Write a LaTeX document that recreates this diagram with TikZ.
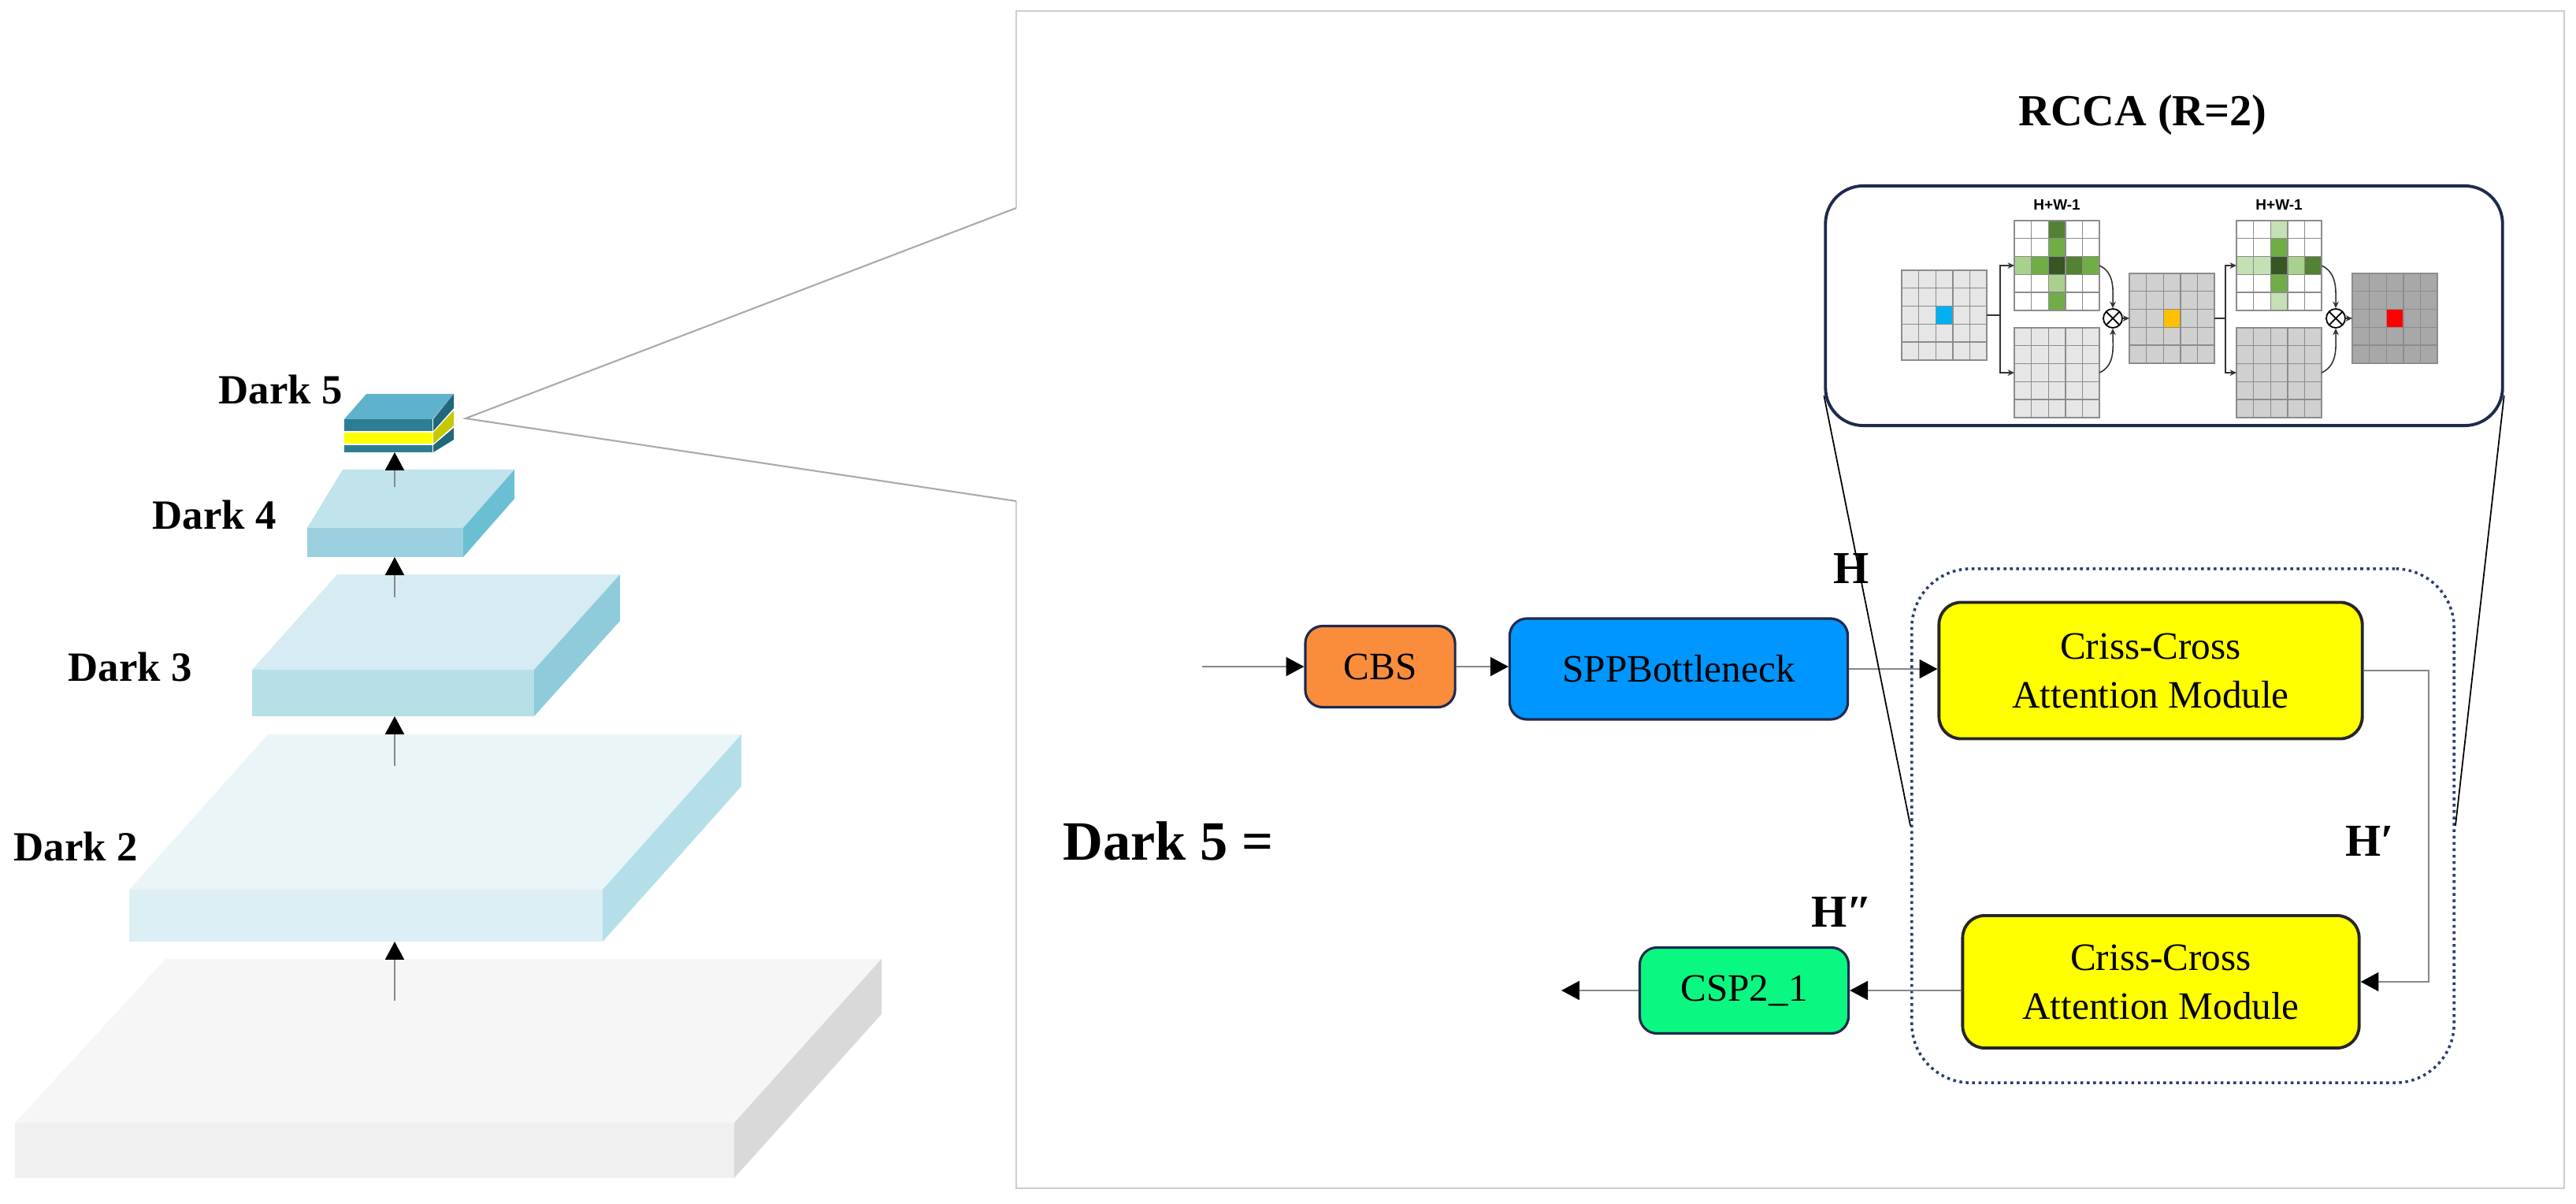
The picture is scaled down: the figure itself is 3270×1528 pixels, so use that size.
\documentclass[tikz,border=0pt]{standalone}
\usepackage{fontspec}
\setmainfont{Liberation Serif}
\newfontfamily\hwfont{Liberation Sans}
\usetikzlibrary{arrows.meta,calc,positioning}

\definecolor{cbsorange}{RGB}{250,141,60}
\definecolor{sppblue}{RGB}{0,150,255}
\definecolor{ccayellow}{RGB}{255,255,0}
\definecolor{cspgreen}{RGB}{10,248,130}
\definecolor{boxnavy}{RGB}{30,42,78}
\definecolor{dotnavy}{RGB}{40,62,110}
\definecolor{framegray}{RGB}{205,205,205}
\definecolor{zoomgray}{RGB}{170,170,170}
\definecolor{flowgray}{RGB}{135,135,135}
\definecolor{cellgray}{RGB}{140,140,140}
\definecolor{fmlight}{RGB}{230,230,230}
\definecolor{fmmid}{RGB}{208,208,208}
\definecolor{fmdark}{RGB}{168,168,168}
\definecolor{pixblue}{RGB}{0,176,240}
\definecolor{pixorange}{RGB}{255,192,0}
\definecolor{gdeep}{RGB}{55,86,35}
\definecolor{gdark}{RGB}{84,130,53}
\definecolor{gmid}{RGB}{112,173,71}
\definecolor{glight}{RGB}{169,209,142}
\definecolor{gpale}{RGB}{197,224,180}
% slabs of the backbone
\definecolor{basetop}{RGB}{246,246,246}
\definecolor{basefront}{RGB}{240,240,240}
\definecolor{baseside}{RGB}{217,217,217}
\definecolor{dktwotop}{RGB}{234,245,248}
\definecolor{dktwofront}{RGB}{219,239,244}
\definecolor{dktwoside}{RGB}{180,223,232}
\definecolor{dkthreetop}{RGB}{214,236,242}
\definecolor{dkthreefront}{RGB}{183,223,232}
\definecolor{dkthreeside}{RGB}{143,203,219}
\definecolor{dkfourtop}{RGB}{192,227,236}
\definecolor{dkfourfront}{RGB}{155,209,223}
\definecolor{dkfourside}{RGB}{107,191,211}
\definecolor{dkfivetop}{RGB}{95,178,203}
\definecolor{dkfiveteal}{RGB}{45,125,147}
\definecolor{dkfiveside}{RGB}{33,104,122}
\definecolor{yellowside}{RGB}{200,200,0}

% slab: xl, xr, ytop, ybottom, back xl, back xr, back y, colour
\newcommand{\slab}[8]{%
  \fill[#8front] (#1,#3) rectangle (#2,#4);
  \fill[#8top] (#1,#3) -- (#2,#3) -- (#6,#7) -- (#5,#7) -- cycle;
  \fill[#8side] (#2,#3) -- (#6,#7) -- (#6,#7+#4-#3) -- (#2,#4) -- cycle;
}
% feature map: name, x, y, fill
\newcommand{\fmap}[4]{%
  \node[fmapbox,fill=#4] (#1) at (#2,#3) {};
  \foreach \i in {1,...,4} {
    \draw[cellline] ($(#1.north west)+(\i*21.6,0)$) -- ($(#1.south west)+(\i*21.6,0)$);
    \draw[cellline] ($(#1.north west)+(0,\i*22.8)$) -- ($(#1.north east)+(0,\i*22.8)$);
  }
}
% one cell: map, column, row, colour
\newcommand{\cell}[4]{%
  \filldraw[fill=#4,draw=cellgray,line width=0.4pt] ($(#1.north west)+(#2*21.6,#3*22.8)$) rectangle ++(21.6,22.8);
}

\begin{document}
\begin{tikzpicture}[x=0.01cm,y=-0.01cm,
  box/.style={draw=boxnavy,line width=0.9pt,rounded corners=0.22cm,inner sep=0pt,align=center,font=\fontsize{14}{17.6}\selectfont},
  ccabox/.style={box,draw=black!85,fill=ccayellow,line width=1.1pt,rounded corners=0.28cm},
  flow/.style={draw=flowgray,line width=0.6pt,-{Triangle[width=6.8pt,length=6.5pt,color=black]}},
  darklbl/.style={font=\bfseries\fontsize{15}{18}\selectfont},
  hlbl/.style={font=\bfseries\fontsize{16.5}{20}\selectfont},
  fmapbox/.style={anchor=north west,draw=cellgray,line width=0.4pt,minimum width=1.08cm,minimum height=1.14cm,inner sep=0pt,outer sep=0pt},
  cellline/.style={draw=cellgray,line width=0.4pt},
  small/.style={draw=black!80,line width=0.45pt,-{Stealth[length=2.4pt,width=2.2pt]}},
  otimes/.style={circle,draw=black,line width=0.5pt,minimum size=0.24cm,inner sep=0pt,fill=white,
    path picture={\draw[line width=0.5pt] (path picture bounding box.north west) -- (path picture bounding box.south east)
      (path picture bounding box.north east) -- (path picture bounding box.south west);}},
  hwlbl/.style={font=\hwfont\bfseries\fontsize{5.4}{6}\selectfont,inner sep=0pt}]
\useasboundingbox (0,0) rectangle (3270,1528);

% frame and zoom lines
\draw[framegray,line width=0.6pt] (1290,264) -- (1290,14) -- (3255,14) -- (3255,1508) -- (1290,1508) -- (1290,636);
\draw[zoomgray,line width=0.6pt] (1290,264) -- (591,531) -- (1290,636);

% backbone
\slab{19}{932}{1425}{1495}{210}{1119}{1217}{base}
\slab{164}{765}{1129}{1195}{340}{941}{932}{dktwo}
\slab{320}{678}{850}{909}{428}{787}{729}{dkthree}
\slab{390}{588}{670}{707}{435}{653}{596}{dkfour}
\fill[dkfivetop] (437,532) -- (549,532) -- (576,500) -- (465,500) -- cycle;
\foreach \ya/\yb/\ba/\bb/\cf/\cs in {532/547/500/518/dkfiveteal/dkfiveside,549/563/521/540/ccayellow/yellowside,565/574/543/558/dkfiveteal/dkfiveside} {
  \fill[\cf] (437,\ya) rectangle (549,\yb);
  \fill[\cs] (550,\ya) -- (576,\ba) -- (576,\bb) -- (550,\yb) -- cycle;
}
\node[darklbl] (l2) at (96,1074) {Dark 2};
\node[darklbl] (l3) at (165,846) {Dark 3};
\node[darklbl] (l4) at (272,653) {Dark 4};
\node[darklbl] (l5) at (356,494) {Dark 5};
\foreach \ya/\yb [count=\k] in {1270/1195,972/909,758/707,618/574} {
  \coordinate (up\k) at (501,\ya);
  \coordinate (dn\k) at (501,\yb);
  \draw[flow] (up\k) -- (dn\k);
}

% Dark 5 in detail
\node[font=\bfseries\fontsize{20}{24}\selectfont] (eqlbl) at (1483,1067) {Dark 5 =};
\node[box,fill=cbsorange,minimum width=1.9cm,minimum height=1.03cm] (cbs) at (1752,846) {CBS};
\node[box,fill=sppblue,minimum width=4.29cm,minimum height=1.28cm] (spp) at (2131,849) {SPPBottleneck};
\node[draw=dotnavy,line width=1pt,dash pattern=on 1pt off 1.3pt,rounded corners=0.75cm,minimum width=6.88cm,minimum height=6.52cm] (loopbox) at (2771,1048) {};
\node[ccabox,minimum width=5.37cm,minimum height=1.73cm] (cca1) at (2730,851) {Criss-Cross\\Attention Module};
\node[ccabox,minimum width=5.03cm,minimum height=1.68cm] (cca2) at (2743,1246) {Criss-Cross\\Attention Module};
\node[box,fill=cspgreen,minimum width=2.65cm,minimum height=1.09cm] (csp) at (2214,1257) {CSP2\_1};
\node[hlbl] (hin) at (2350,722) {H};
\node[hlbl] (hmid) at (3008,1067) {H′};
\node[hlbl] (hout) at (2338,1157) {H″};

\coordinate (in) at (1526,846);
\coordinate (out) at (1982,1257);
\draw[flow] (in) -- (cbs);
\draw[flow] (cbs) -- (spp.west |- cbs);
\draw[flow] (spp) -- (cca1.west |- spp);
\draw[flow] (cca1.east) -- ++(82,0) |- (cca2.east);
\draw[flow] (cca2.west |- csp) -- (csp.east);
\draw[flow] (csp) -- (out);

% RCCA
\node[font=\bfseries\fontsize{16}{19}\selectfont] (rccatitle) at (2720,146) {RCCA (R=2)};
\node[draw=boxnavy,line width=1.1pt,rounded corners=0.48cm,minimum width=8.59cm,minimum height=3.04cm] (rccabox) at (2747,388) {};
\draw[line width=0.5pt] ($(rccabox.south west)+(0,-40)$) -- (loopbox.west);
\draw[line width=0.5pt] ($(rccabox.south east)+(0,-40)$) -- (loopbox.east);

\fmap{g1}{2414}{343}{fmlight}
\fmap{g2}{2557}{280}{white}
\fmap{g3}{2557}{416}{fmlight}
\fmap{g4}{2703}{347}{fmmid}
\fmap{g5}{2839}{280}{white}
\fmap{g6}{2839}{416}{fmmid}
\fmap{g7}{2986}{347}{fmdark}
\cell{g1}{2}{2}{pixblue}
\cell{g4}{2}{2}{pixorange}
\cell{g7}{2}{2}{red}
\foreach \c/\r/\k in {2/0/gdark,2/1/gmid,2/3/glight,2/4/gmid,0/2/glight,1/2/gmid,3/2/gdark,4/2/gmid,2/2/gdeep} {\cell{g2}{\c}{\r}{\k}}
\foreach \c/\r/\k in {2/0/gpale,2/1/gmid,2/3/gmid,2/4/gpale,0/2/gpale,1/2/gpale,3/2/glight,4/2/gdark,2/2/gdeep} {\cell{g5}{\c}{\r}{\k}}
\node[hwlbl,above=0.13cm of g2] (hw1) {H+W-1};
\node[hwlbl,above=0.13cm of g5] (hw2) {H+W-1};

\node[otimes] (ot1) at (2682,404) {};
\node[otimes] (ot2) at (2965,404) {};
\draw[small] (g1.east) -- ++(17,0) |- (g2.west);
\draw[small] (g1.east) -- ++(17,0) |- (g3.west);
\draw[small] (g2.east) to[out=-25,in=90] (ot1.north);
\draw[small] (g3.east) to[out=25,in=-90] (ot1.south);
\draw[small] (ot1) -- (g4.west);
\draw[small] (g4.east) -- ++(14,0) |- (g5.west);
\draw[small] (g4.east) -- ++(14,0) |- (g6.west);
\draw[small] (g5.east) to[out=-25,in=90] (ot2.north);
\draw[small] (g6.east) to[out=25,in=-90] (ot2.south);
\draw[small] (ot2) -- (g7.west);
\end{tikzpicture}
\end{document}
